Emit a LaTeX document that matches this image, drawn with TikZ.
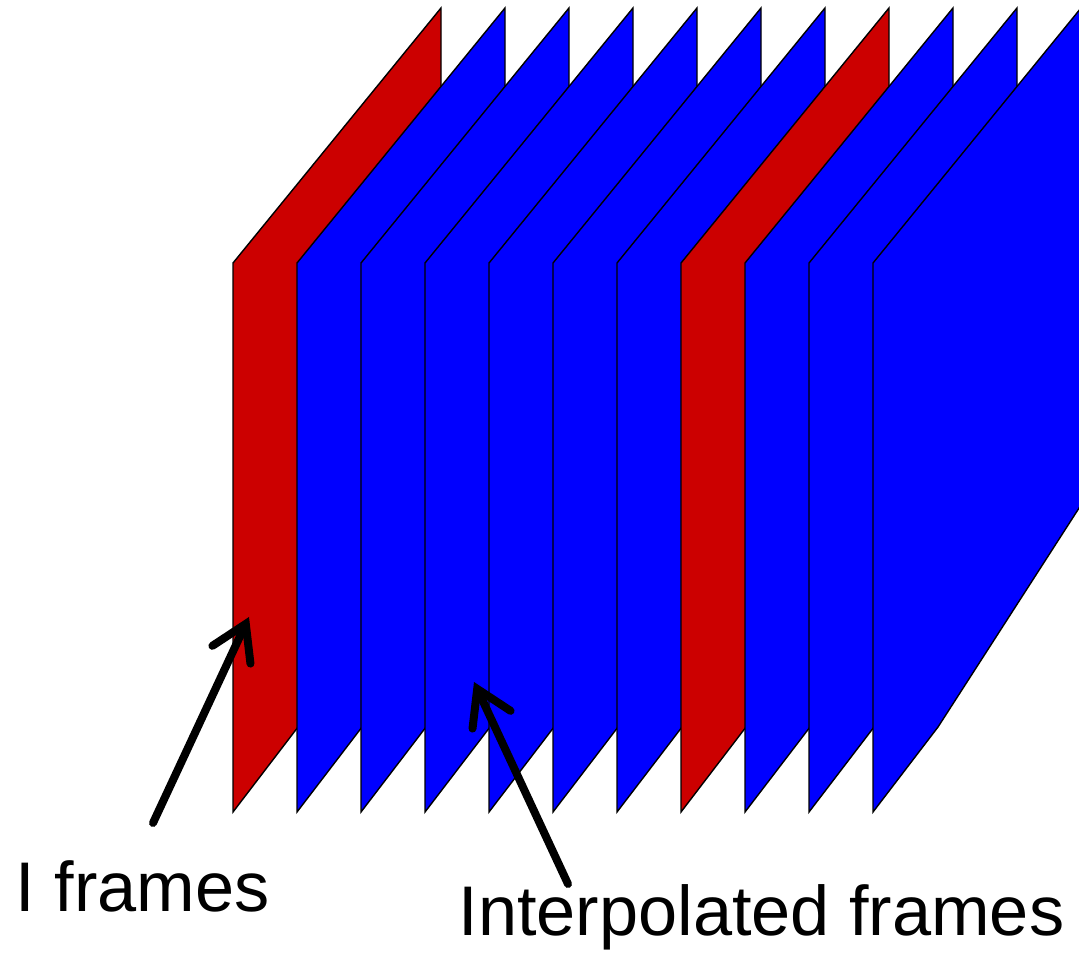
\documentclass[tikz,border=0pt]{standalone}
\usepackage{fontspec}
\setmainfont{Liberation Sans}
\usetikzlibrary{arrows.meta}
\definecolor{iframe}{RGB}{204,0,0}
\definecolor{pframe}{RGB}{0,0,255}

\begin{document}
\begin{tikzpicture}[
    x=0.1mm, y=-0.1mm,
    frame/.style={draw=black, line width=0.4pt, line join=miter},
    lbl/.style={anchor=base west, inner sep=0pt,
                font=\fontsize{20}{24}\selectfont},
    pointer/.style={-{Straight Barb[length=3.4mm, width=4.2mm, line cap=round]},
                    line width=0.8mm, line cap=round}
  ]
  \useasboundingbox (0,0) rectangle (1079,953);

  % Stack of frames, left to right; red ones are I frames.
  \foreach \i in {0,...,10} {
    \pgfmathsetmacro{\x}{233+64*\i}
    \ifnum\i=0 \def\col{iframe}\else\ifnum\i=7 \def\col{iframe}\else\def\col{pframe}\fi\fi
    \filldraw[frame, fill=\col] (\x,263) -- (\x+208,8) -- (\x+208,505)
      -- (\x+65,727) -- (\x,812) -- cycle;
  }

  % Labels.
  \node[lbl] (ilabel) at (15,912)  {I frames};
  \node[lbl] (plabel) at (458,935) {Interpolated frames};

  % Arrow ends.
  \coordinate (itail) at (153,823);
  \coordinate (itip)  at (249,617);
  \coordinate (ptail) at (568,884);
  \coordinate (ptip)  at (474,682);

  \draw[pointer] (itail) -- (itip);
  \draw[pointer] (ptail) -- (ptip);

\end{tikzpicture}
\end{document}
